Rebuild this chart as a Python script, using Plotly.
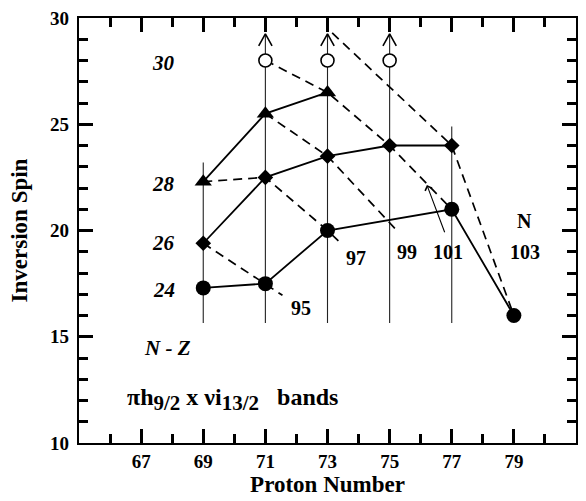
import plotly.graph_objects as go

FONT = "Liberation Serif"

# ---------------- data ----------------
# bands labelled by N - Z
band24_x = [69, 71, 73, 77, 79]
band24_y = [17.3, 17.5, 20.0, 21.0, 16.0]
band26_x = [69, 71, 73, 75, 77]
band26_y = [19.4, 22.5, 23.5, 24.0, 24.0]
band28_x = [69, 71, 73]
band28_y = [22.3, 25.5, 26.5]
band30_x = [71, 73, 75]
band30_y = [28.0, 28.0, 28.0]          # lower limits (arrows)

# lines of constant neutron number N (dashed)
n95_x = [69, 71, 71.55]
n95_y = [19.4, 17.5, 16.95]
n97_x = [69, 71, 73, 73.47]
n97_y = [22.3, 22.5, 20.0, 19.35]
n99_x = [71, 73, 75.2]
n99_y = [25.5, 23.5, 20.05]
n101_x = [71, 73, 75, 77]
n101_y = [28.0, 26.5, 24.0, 21.0]
n103_x = [73.15, 77, 79]
n103_y = [29.3, 24.0, 16.0]

# vertical guide lines
vline_x = [69, 71, 73, 75, 77]
vline_bottom = [15.65, 15.65, 15.65, 15.65, 15.65]
vline_top = [23.2, 29.25, 29.25, 29.25, 24.9]
arrow_x = [71, 73, 75]
arrow_tip = [29.25, 29.25, 29.25]

# labels
nz_text = ["30", "28", "26", "24"]
nz_y = [27.88, 22.18, 19.42, 17.21]
nz_x = 67.73
n_text = ["95", "97", "99", "101", "103"]
n_lx = [72.14, 73.93, 75.56, 76.89, 79.35]
n_ly = [16.35, 18.69, 19.0, 19.0, 19.0]

x_ticks = [67, 69, 71, 73, 75, 77, 79]
y_ticks = [10, 15, 20, 25, 30]
x_range = [65, 81]
y_range = [10, 30]

# ---------------- figure ----------------
fig = go.Figure()

vx, vy = [], []
for x, b, t in zip(vline_x, vline_bottom, vline_top):
    vx += [x, x, None]
    vy += [b, t, None]
fig.add_trace(go.Scatter(x=vx, y=vy, mode="lines",
                         line=dict(color="#222", width=1.1), hoverinfo="skip"))

ARM_DX, ARM_DY = 0.215, 0.56
cx, cy = [], []
for x, t in zip(arrow_x, arrow_tip):
    cx += [x - ARM_DX, x, x + ARM_DX, None]
    cy += [t - ARM_DY, t, t - ARM_DY, None]
fig.add_trace(go.Scatter(x=cx, y=cy, mode="lines",
                         line=dict(color="black", width=1.6), hoverinfo="skip"))

for xs, ys in [(n95_x, n95_y), (n97_x, n97_y), (n99_x, n99_y),
               (n101_x, n101_y), (n103_x, n103_y)]:
    fig.add_trace(go.Scatter(x=xs, y=ys, mode="lines",
                             line=dict(color="black", width=1.7, dash="9px,6px"),
                             hoverinfo="skip"))

fig.add_trace(go.Scatter(x=band24_x, y=band24_y, mode="lines+markers",
                         line=dict(color="black", width=1.8),
                         marker=dict(symbol="circle", size=15, color="black")))
fig.add_trace(go.Scatter(x=band26_x, y=band26_y, mode="lines+markers",
                         line=dict(color="black", width=1.8),
                         marker=dict(symbol="diamond", size=12, color="black")))
fig.add_trace(go.Scatter(x=band28_x, y=band28_y, mode="lines+markers",
                         line=dict(color="black", width=1.8),
                         marker=dict(symbol="triangle-up", size=15, color="black")))
fig.add_trace(go.Scatter(x=band30_x, y=band30_y, mode="markers",
                         marker=dict(symbol="circle", size=13, color="white",
                                     line=dict(color="black", width=1.6))))

ann = []
ital = dict(family=FONT, size=21, color="black", weight="bold", style="italic")
bold = dict(family=FONT, size=20, color="black", weight="bold")
for t, y in zip(nz_text, nz_y):
    ann.append(dict(x=nz_x, y=y, xref="x", yref="y", text=t, showarrow=False, font=ital))
ann.append(dict(x=67.84, y=14.49, xref="x", yref="y", text="N - Z", showarrow=False, font=ital))
for t, x, y in zip(n_text, n_lx, n_ly):
    ann.append(dict(x=x, y=y, xref="x", yref="y", text=t, showarrow=False, font=bold))
ann.append(dict(x=79.35, y=20.47, xref="x", yref="y", text="N", showarrow=False, font=bold))
ann.append(dict(x=76.2, y=22.14, ax=76.79, ay=19.85, xref="x", yref="y",
                axref="x", ayref="y", text="", showarrow=True,
                arrowhead=4, arrowsize=1.3, arrowwidth=1.1, arrowcolor="black"))
NB = "\u00a0"
ann.append(dict(x=66.47, y=12.05, xref="x", yref="y", xanchor="left", yanchor="middle",
                text=('πh<sub><span style="font-size:21px">9/2</span></sub>' + NB + 'x' + NB +
                      'νi<sub><span style="font-size:21px">13/2</span></sub>' + NB + NB + NB + 'bands'),
                showarrow=False,
                font=dict(family=FONT, size=24, color="black", weight="bold")))

axis_common = dict(
    showline=True, linewidth=2.4, linecolor="black", mirror="ticks",
    ticks="inside", ticklen=14, tickwidth=3, tickcolor="black",
    showgrid=False, zeroline=False,
    tickfont=dict(family=FONT, size=19, color="black", weight="bold"),
)

fig.update_layout(
    width=586, height=501,
    margin=dict(l=79, r=8, t=14, b=58),
    paper_bgcolor="white", plot_bgcolor="white",
    showlegend=False,
    annotations=ann,
    xaxis=dict(range=x_range, tickmode="array", tickvals=x_ticks,
               minor=dict(ticks="inside", ticklen=9, tickwidth=2.5, tickcolor="black",
                          tick0=65, dtick=1),
               title=dict(text="Proton Number", standoff=2,
                          font=dict(family=FONT, size=23, color="black", weight="bold")),
               **axis_common),
    yaxis=dict(range=y_range, tickmode="array", tickvals=y_ticks,
               minor=dict(ticks="inside", ticklen=9, tickwidth=2.5, tickcolor="black",
                          tick0=10, dtick=1),
               ticklabelstandoff=4,
               title=dict(text="Inversion Spin", standoff=16,
                          font=dict(family=FONT, size=23, color="black", weight="bold")),
               **axis_common),
)

fig.write_html("out.html")
